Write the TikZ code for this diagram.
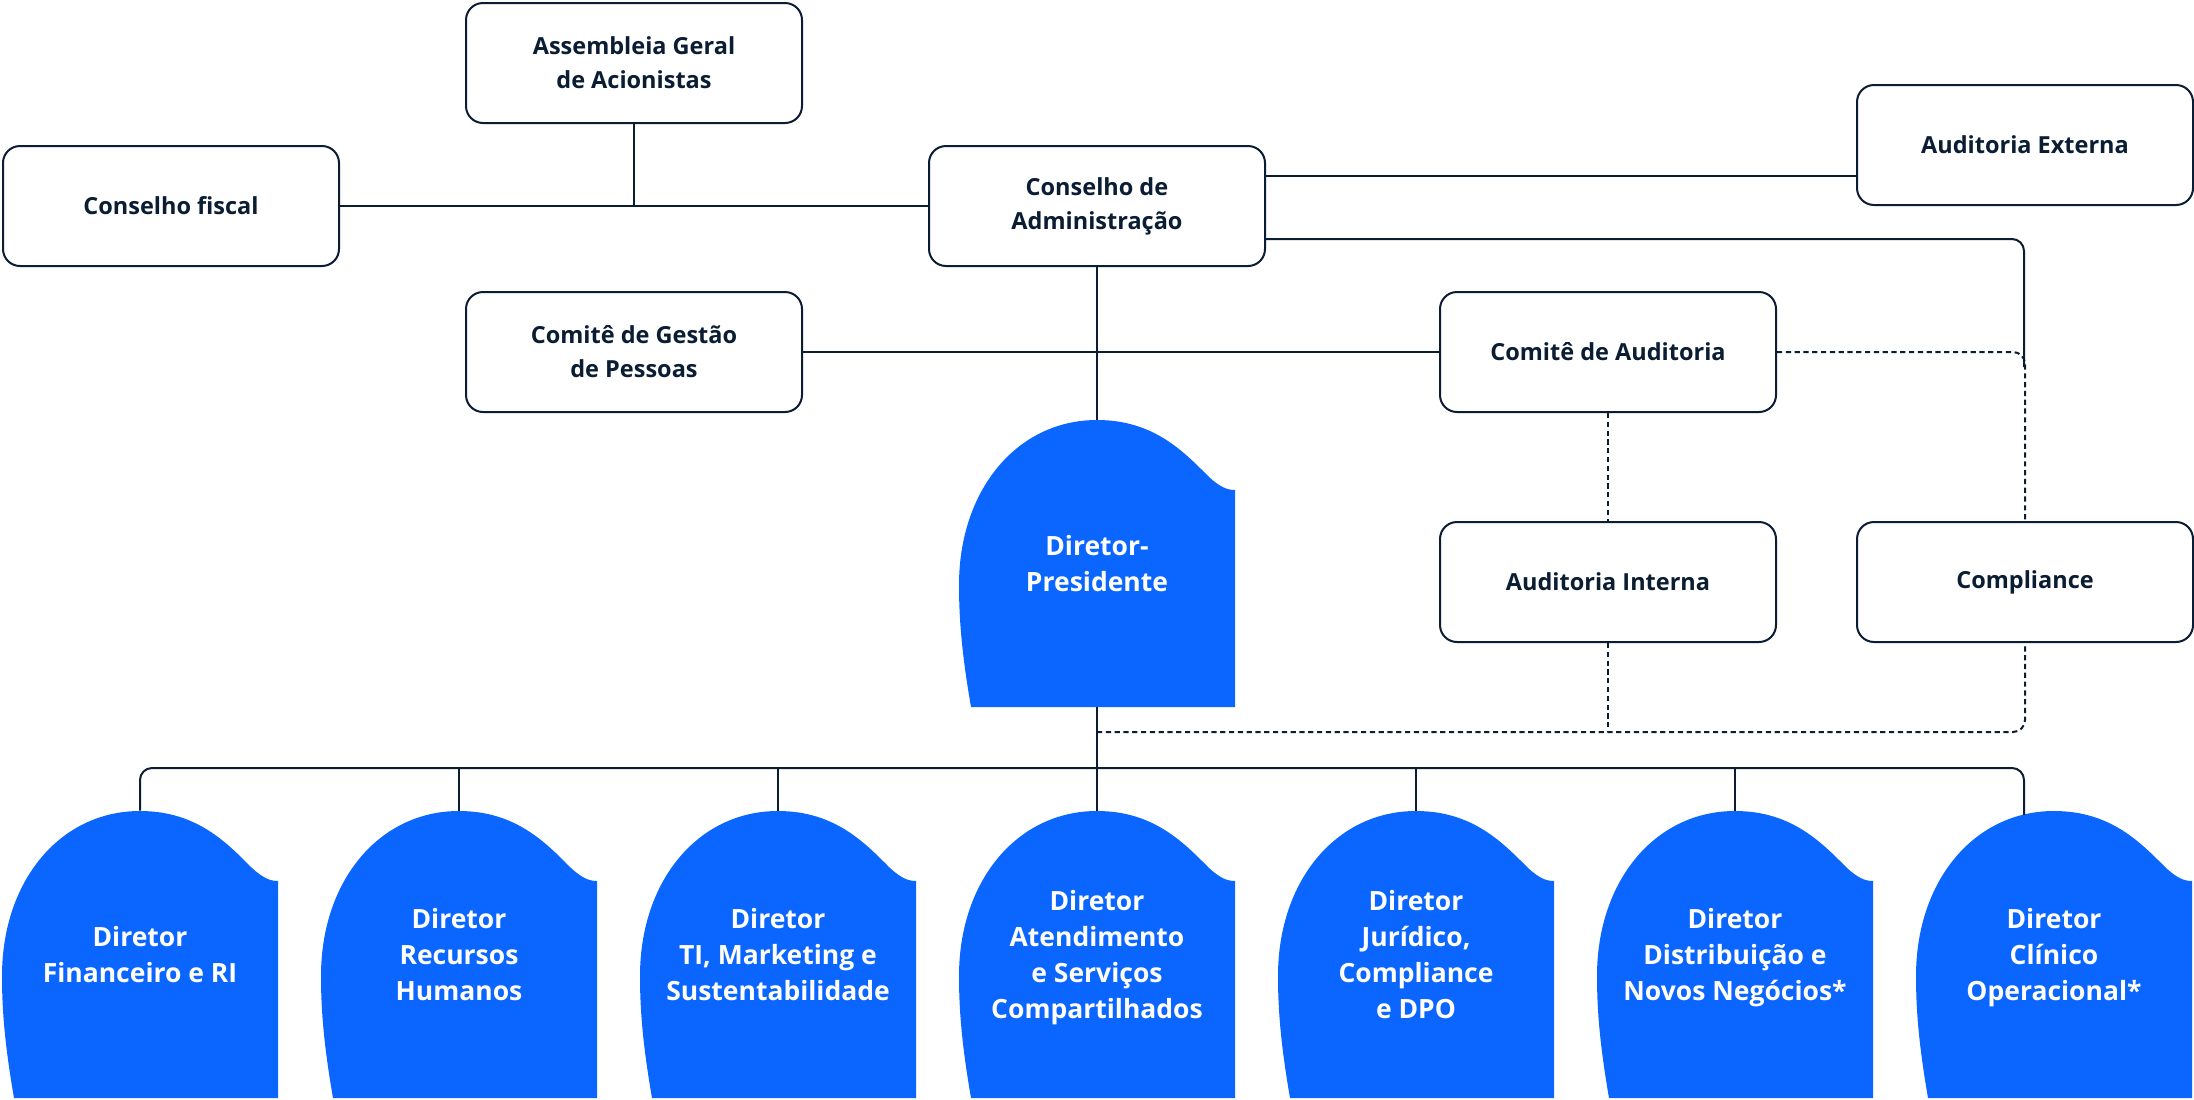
\documentclass[tikz,border=0pt]{standalone}
\usepackage{fontspec}
\setmainfont{Open Sans}

\definecolor{marinho}{HTML}{0B1D33}
\definecolor{azul}{HTML}{0A66FF}

% contorno das caixas azuis (origem no canto superior esquerdo)
\newcommand{\formadiretor}{(12,287) .. controls (3,235) and (0,200) .. (0,165)
  .. controls (0,70) and (58,0) .. (138,0)
  .. controls (195,0) and (225,32) .. (250,57)
  .. controls (261,67) and (268,70) .. (276,70) -- (276,287) -- cycle}

\begin{document}
\begin{tikzpicture}[
    x=0.5pt, y=-0.5pt,
    caixa/.style={draw=marinho, line width=1pt, rounded corners=8.5pt, fill=white,
      minimum width=168pt, minimum height=60pt, inner sep=0pt, align=center,
      text=marinho, font=\bfseries\fontsize{11.75}{17}\selectfont},
    diretor/.style={minimum width=138pt, minimum height=143.5pt, inner sep=0pt,
      align=center, text=white, text depth=0pt, font=\bfseries\fontsize{13.25}{18}\selectfont},
    linha/.style={draw=marinho, line width=1pt},
    pontilhado/.style={draw=marinho, line width=1pt, dash pattern=on 2.6pt off 1.8pt}
]
\useasboundingbox (0,0) rectangle (2194,1099);

% Conselhos e comites
\node[caixa] (ag) at (634,63) {Assembleia Geral\\de Acionistas};
\node[caixa] (cf) at (171,206) {Conselho fiscal};
\node[caixa] (ca) at (1097,206) {Conselho de\\Administração};
\node[caixa] (ae) at (2025,145) {Auditoria Externa};
\node[caixa] (cgp) at (634,352) {Comitê de Gestão\\de Pessoas};
\node[caixa] (cau) at (1608,352) {Comitê de Auditoria};
\node[caixa] (ai) at (1608,582) {Auditoria Interna};
\node[caixa] (comp) at (2025,582) {Compliance};

% Diretor-Presidente
\fill[azul, shift={(959,420)}] \formadiretor;
\node[diretor] (dp) at (1097,563.5) {Diretor-\\Presidente};

% Diretorias
\foreach \nome/\esq/\texto in {
    fin/2/{Diretor\\Financeiro e RI},
    rh/321/{Diretor\\Recursos\\Humanos},
    ti/640/{Diretor\\TI, Marketing e\\Sustentabilidade},
    at/959/{Diretor\\Atendimento\\e Serviços\\Compartilhados},
    jur/1278/{Diretor\\Jurídico,\\Compliance\\e DPO},
    dist/1597/{Diretor\\Distribuição e\\Novos Negócios*},
    clin/1916/{Diretor\\Clínico\\Operacional*}} {
  \fill[azul, shift={(\esq,811)}] \formadiretor;
  \node[diretor] (\nome) at ({\esq+138},954.5) {\texto};
}

% Pontos auxiliares
\coordinate (comp-topo) at (2024,367);
\coordinate (tracejado) at (1097,732);
\coordinate (barra) at (1097,768);
\coordinate (clin-topo) at (2024,815);

% Ligacoes continuas
\draw[linha] (cf.east) -- (ca.west);
\draw[linha] (ag.south) -- (ag.south |- cf.east);
\draw[linha] ([yshift=15pt]ca.east) -- ([yshift=15pt]ca.east -| ae.west);
\draw[linha, rounded corners=6pt] ([yshift=-16.5pt]ca.east) -| (comp-topo);
\draw[linha] (cgp.east) -- (cau.west);
\draw[linha] (ca.south) -- (dp.north);
\draw[linha] (dp.south) -- (barra);
\draw[linha, rounded corners=6pt] (fin.north) |- (barra) -| (clin-topo);
\foreach \n in {rh,ti,at,jur,dist}
  \draw[linha] (\n.north) -- (\n.north |- barra);

% Ligacoes tracejadas
\draw[pontilhado, rounded corners=6pt] (cau.east) -| (comp.north);
\draw[pontilhado] (cau.south) -- (ai.north);
\draw[pontilhado] (ai.south) -- (ai.south |- tracejado);
\draw[pontilhado, rounded corners=6pt] (tracejado) -| (comp.south);

\end{tikzpicture}
\end{document}
